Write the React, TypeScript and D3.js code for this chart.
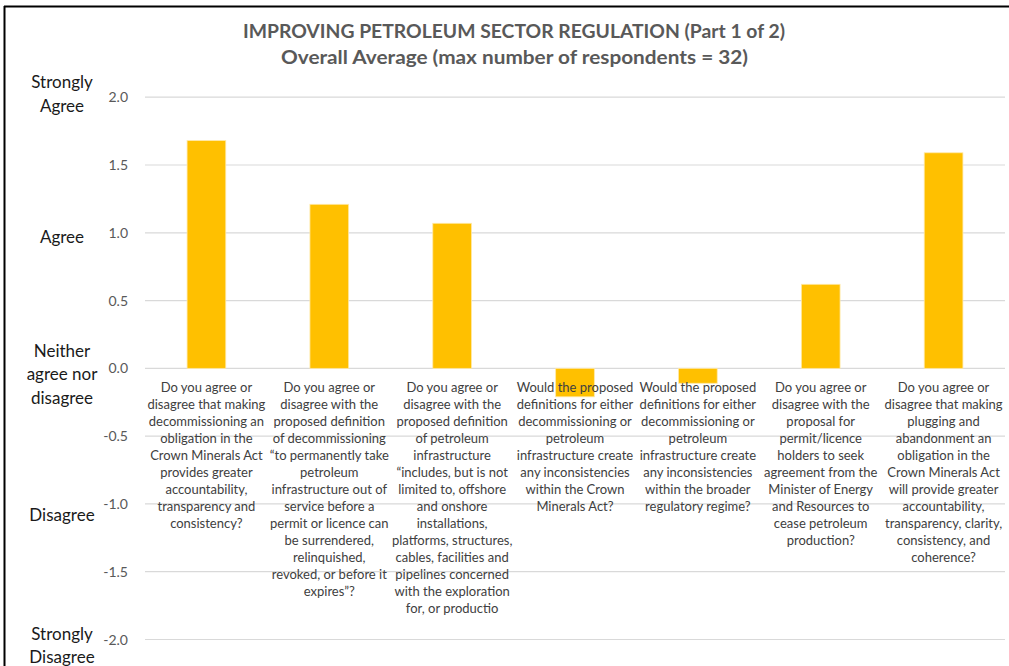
import React from "react";
import * as d3 from "d3";

// Survey questions (line breaks as laid out under each bar)
const categories: string[] = [
  "Do you agree or\ndisagree that making\ndecommissioning an\nobligation in the\nCrown Minerals Act\nprovides greater\naccountability,\ntransparency and\nconsistency?",
  "Do you agree or\ndisagree with the\nproposed definition\nof decommissioning\n“to permanently take\npetroleum\ninfrastructure out of\nservice before a\npermit or licence can\nbe surrendered,\nrelinquished,\nrevoked, or before it\nexpires”?",
  "Do you agree or\ndisagree with the\nproposed definition\nof petroleum\ninfrastructure\n“includes, but is not\nlimited to, offshore\nand onshore\ninstallations,\nplatforms, structures,\ncables, facilities and\npipelines concerned\nwith the exploration\nfor, or productio",
  "Would the proposed\ndefinitions for either\ndecommissioning or\npetroleum\ninfrastructure create\nany inconsistencies\nwithin the Crown\nMinerals Act?",
  "Would the proposed\ndefinitions for either\ndecommissioning or\npetroleum\ninfrastructure create\nany inconsistencies\nwithin the broader\nregulatory regime?",
  "Do you agree or\ndisagree with the\nproposal for\npermit/licence\nholders to seek\nagreement from the\nMinister of Energy\nand Resources to\ncease petroleum\nproduction?",
  "Do you agree or\ndisagree that making\nplugging and\nabandonment an\nobligation in the\nCrown Minerals Act\nwill provide greater\naccountability,\ntransparency, clarity,\nconsistency, and\ncoherence?",
];

// Overall average score per question
const averages: number[] = [1.68, 1.21, 1.07, -0.21, -0.11, 0.62, 1.59];

// Numeric axis ticks
const yTicks: number[] = [2, 1.5, 1, 0.5, 0, -0.5, -1, -1.5, -2];

// Likert scale labels and the value each is aligned with
const scaleLabels: string[] = ["Strongly\nAgree", "Agree", "Neither\nagree nor\ndisagree", "Disagree", "Strongly\nDisagree"];
const scaleValues: number[] = [2, 1, 0, -1, -2];

const titleLines: string[] = [
  "IMPROVING PETROLEUM SECTOR REGULATION (Part 1 of 2)",
  "Overall Average (max number of respondents = 32)",
];

const W = 1009;
const H = 666;
const FONT = "Lato, 'Open Sans', sans-serif";

// vertical nudge of each Likert label block relative to its value
const scaleNudge: number[] = [-3, 4, 6, 11, 6];

export default function App() {
  const x = d3
    .scaleBand<number>()
    .domain(d3.range(categories.length))
    .range([145, 1005])
    .paddingInner(0.685)
    .paddingOuter(0.3425);
  const y = d3.scaleLinear().domain([-2, 2]).range([639.5, 97.2]);
  const fmt = (t: number) => d3.format(".1f")(t).replace("\u2212", "-");

  return (
    <svg
      width={W}
      height={H}
      style={{ position: "absolute", left: 0, top: 0, background: "#fff" }}
      fontFamily={FONT}
    >
      {/* frame edges */}
      <line x1={4.5} y1={6} x2={4.5} y2={H} stroke="#000" strokeWidth={2} />
      <line x1={4} y1={6.5} x2={W} y2={6.5} stroke="#000" strokeWidth={2} />

      {/* title */}
      <g fill="#595959" fontWeight="bold" textAnchor="middle">
        <text x={514} y={38} fontSize={18.5} textLength={542} lengthAdjust="spacingAndGlyphs">
          {titleLines[0]}
        </text>
        <text x={514.5} y={64} fontSize={18.5} textLength={467} lengthAdjust="spacingAndGlyphs">
          {titleLines[1]}
        </text>
      </g>

      {/* gridlines */}
      <g stroke="#d9d9d9" strokeWidth={1.2}>
        {yTicks.map((t) => (
          <line key={t} x1={145} x2={1005} y1={y(t)} y2={y(t)} />
        ))}
      </g>

      {/* tick labels */}
      <g fill="#595959" fontSize={14} textAnchor="end">
        {yTicks.map((t) => (
          <text key={t} x={128} y={y(t) + 5}>
            {fmt(t)}
          </text>
        ))}
      </g>

      {/* Likert scale labels */}
      <g fill="#1a1a1a" fontSize={17} textAnchor="middle">
        {scaleLabels.map((lab, i) => {
          const lines = lab.split("\n");
          const lh = 23.5;
          const c = y(scaleValues[i]) + scaleNudge[i];
          const top = c - ((lines.length - 1) * lh) / 2;
          return (
            <text key={lab} x={62}>
              {lines.map((ln, j) => (
                <tspan key={j} x={62} y={top + j * lh + 6}>
                  {ln}
                </tspan>
              ))}
            </text>
          );
        })}
      </g>

      {/* bars */}
      <g fill="#FFC000" stroke="#ffe9a8" strokeWidth={0.8}>
        {averages.map((v, i) => (
          <rect
            key={i}
            x={x(i)}
            width={x.bandwidth()}
            y={Math.min(y(v), y(0))}
            height={Math.abs(y(v) - y(0))}
          />
        ))}
      </g>

      {/* category labels */}
      <g fill="#404040" fontSize={13} textAnchor="middle">
        {categories.map((c, i) => {
          const cx = (x(i) as number) + x.bandwidth() / 2;
          return (
            <text key={i}>
              {c.split("\n").map((ln, j) => (
                <tspan key={j} x={cx} y={391.5 + j * 17}>
                  {ln}
                </tspan>
              ))}
            </text>
          );
        })}
      </g>
    </svg>
  );
}
